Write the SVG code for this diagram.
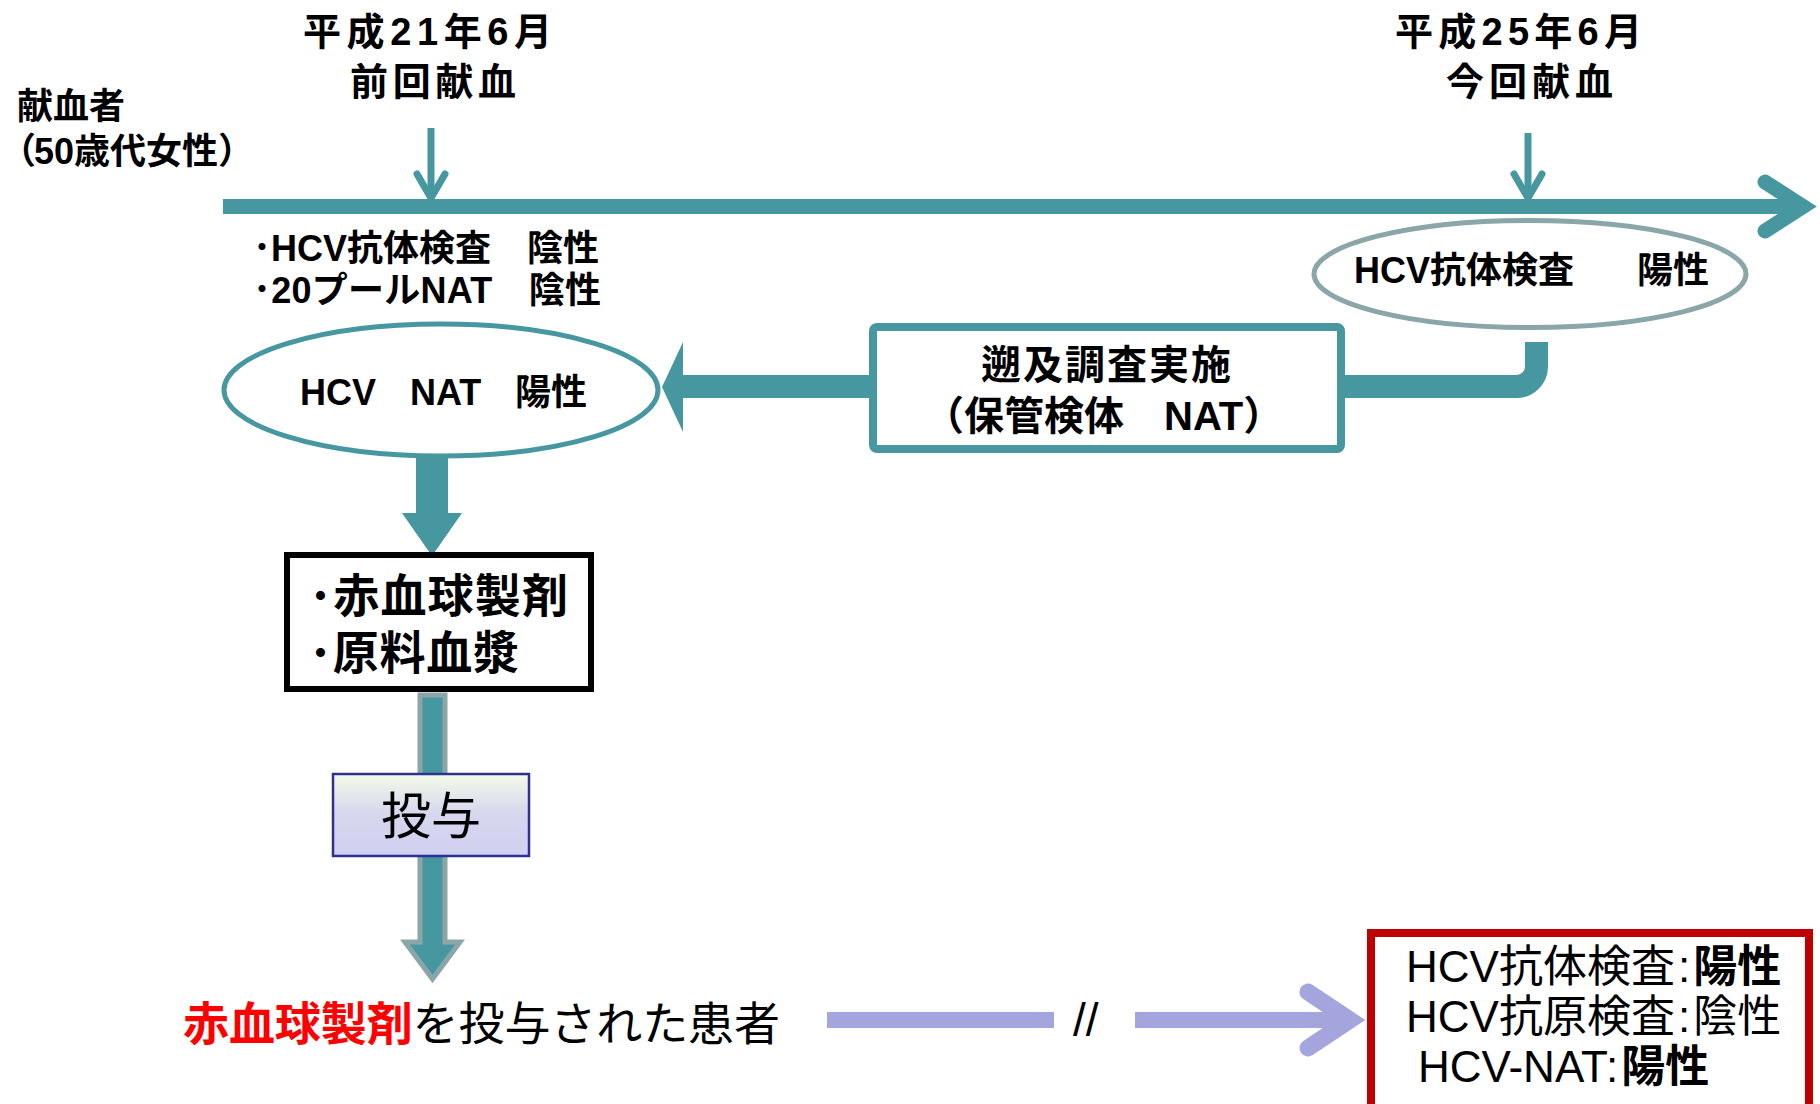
<svg xmlns="http://www.w3.org/2000/svg" width="1820" height="1104" viewBox="0 0 1820 1104">
<defs>
<linearGradient id="gBox" x1="0" y1="0" x2="0" y2="1">
<stop offset="0" stop-color="#f4fae8"/>
<stop offset="0.5" stop-color="#d6d6ee"/>
<stop offset="1" stop-color="#d0d0f0"/>
</linearGradient>
</defs>
<style>
text{font-family:"Liberation Sans","Noto Sans CJK JP",sans-serif;fill:#000}
.b{font-weight:bold}
.teal{fill:none;stroke:#4797a0}
.lav{fill:none;stroke:#a5a5de}
</style>
<rect width="1820" height="1104" fill="#fff"/>

<g id="connectors">
<line x1="223" y1="206.5" x2="1803" y2="206.5" class="teal" stroke-width="15"/>
<path d="M1765 182 L1803 206.5 L1765 231" class="teal" stroke-width="15" stroke-linecap="round" stroke-linejoin="miter"/>
<line x1="431" y1="128" x2="431" y2="196" class="teal" stroke-width="7"/>
<path d="M417 174 L431 198 L445 174" class="teal" stroke-width="7" stroke-linecap="round"/>
<line x1="1528" y1="133" x2="1528" y2="196" class="teal" stroke-width="7"/>
<path d="M1514 174 L1528 198 L1542 174" class="teal" stroke-width="7" stroke-linecap="round"/>
<path d="M1345 386.5 H1516.5 A20 20 0 0 0 1536.5 366.5 V342" class="teal" stroke-width="23"/>
<rect x="683" y="375" width="190" height="23" fill="#4797a0"/>
<polygon points="662,387 683,342 683,432" fill="#4797a0"/>
<polygon points="416,455 448,455 448,513 462,513 432,556 402,513 416,513" fill="#4797a0"/>
<polygon points="420,695 445,695 445,942 460,942 432.5,979 405,942 420,942" fill="#4797a0" stroke="#8aa6a8" stroke-width="5" stroke-linejoin="miter"/>
<line x1="827" y1="1020" x2="1054" y2="1020" class="lav" stroke-width="16"/>
<line x1="1135" y1="1020" x2="1350" y2="1020" class="lav" stroke-width="16"/>
<path d="M1308 992 L1350 1020 L1308 1048" class="lav" stroke-width="17" stroke-linecap="round"/>
<text x="1073" y="1036" font-size="46">//</text>
</g>

<g id="donor">
<text x="17" y="119" font-size="36" class="b">献血者</text>
<text y="164" font-size="36" class="b"><tspan x="0">（</tspan><tspan x="34">50歳代女性）</tspan></text>
</g>

<g id="prev-donation">
<text x="303" y="45" font-size="38" class="b" textLength="249" lengthAdjust="spacing">平成21年6月</text>
<text x="350" y="95" font-size="38" class="b" textLength="166" lengthAdjust="spacing">前回献血</text>
</g>

<g id="curr-donation">
<text x="1395" y="45" font-size="38" class="b" textLength="247" lengthAdjust="spacing">平成25年6月</text>
<text x="1446" y="95" font-size="38" class="b" textLength="167" lengthAdjust="spacing">今回献血</text>
</g>

<g id="prev-results">
<text x="253" y="261" font-size="36" class="b" textLength="346" lengthAdjust="spacing">･HCV抗体検査　陰性</text>
<text x="253" y="303" font-size="36" class="b" textLength="348" lengthAdjust="spacing">･20プールNAT　陰性</text>
</g>

<g id="curr-antibody">
<ellipse cx="1530" cy="274" rx="216" ry="53.5" fill="#fff" stroke="#8aa6a8" stroke-width="5"/>
<text y="283" font-size="36" class="b"><tspan x="1354">HCV抗体検査</tspan><tspan x="1637">陽性</tspan></text>
</g>

<g id="lookback">
<rect x="873" y="327" width="468" height="122" rx="4" fill="#fff" stroke="#4797a0" stroke-width="8"/>
<text x="981" y="379" font-size="40" class="b" textLength="250" lengthAdjust="spacing">遡及調査実施</text>
<text x="924" y="430" font-size="40" class="b">（保管検体　NAT）</text>
</g>

<g id="nat-positive">
<ellipse cx="441" cy="390" rx="217" ry="66" fill="#fff" stroke="#4797a0" stroke-width="5"/>
<text y="405" font-size="36" class="b"><tspan x="300">HCV</tspan><tspan x="410">NAT</tspan><tspan x="515">陽性</tspan></text>
</g>

<g id="products">
<rect x="287" y="555" width="304" height="134" fill="#fff" stroke="#000" stroke-width="6"/>
<text x="309" y="612" font-size="46" class="b" textLength="259" lengthAdjust="spacing">･赤血球製剤</text>
<text x="309" y="669" font-size="46" class="b" textLength="210" lengthAdjust="spacing">･原料血漿</text>
</g>

<g id="administer">
<rect x="333" y="774" width="196" height="82" fill="url(#gBox)" stroke="#2e3192" stroke-width="2.5"/>
<text x="431" y="834" font-size="50" text-anchor="middle">投与</text>
</g>

<g id="patient">
<text x="183" y="1040" font-size="46" textLength="597" lengthAdjust="spacing"><tspan class="b" style="fill:#ff0000">赤血球製剤</tspan>を投与された患者</text>
</g>

<g id="patient-results">
<rect x="1371" y="933" width="438" height="220" fill="#fff" stroke="#c00000" stroke-width="8"/>
<text x="1406" y="982" font-size="44">HCV抗体検査<tspan dx="3">:</tspan><tspan class="b" dx="3">陽性</tspan></text>
<text x="1406" y="1032" font-size="44">HCV抗原検査<tspan dx="3">:</tspan><tspan dx="3">陰性</tspan></text>
<text x="1418" y="1082" font-size="44">HCV-NAT<tspan dx="3">:</tspan><tspan class="b" dx="3">陽性</tspan></text>
</g>
</svg>
